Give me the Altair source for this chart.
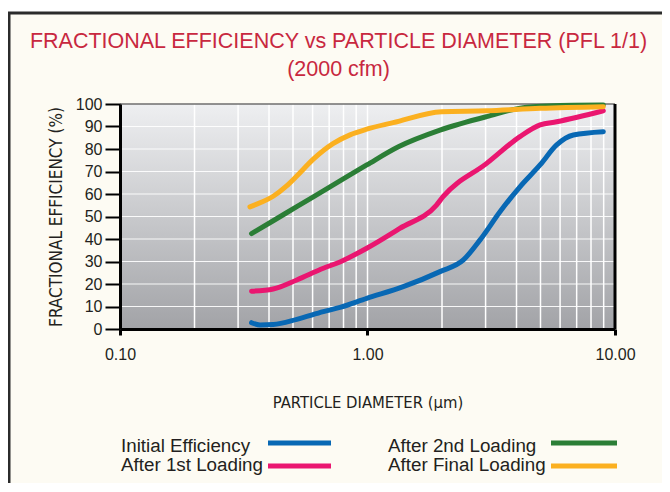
import altair as alt
import pandas as pd

# ---------------- data ----------------
series_names = ["Initial Efficiency", "After 1st Loading", "After 2nd Loading", "After Final Loading"]
series_colors = ["#0868b4", "#ea1670", "#2b7e36", "#fbb020"]

dia_initial = [0.34, 0.368, 0.416, 0.518, 0.663, 0.774, 0.993, 1.395, 1.963, 2.44, 2.85, 3.43, 4.13, 4.98, 5.81, 6.79, 8.97]
eff_initial = [2.8, 1.8, 2.0, 4.3, 7.7, 9.6, 13.6, 18.8, 25.5, 30.7, 39.6, 52.1, 63.2, 72.9, 81.8, 86.2, 87.7]

dia_first = [0.34, 0.416, 0.518, 0.663, 0.774, 0.993, 1.35, 1.90, 2.02, 3.03, 4.13, 4.98, 5.81, 8.97]
eff_first = [16.8, 17.8, 21.8, 27.0, 29.8, 35.9, 44.7, 55.1, 58.8, 73.6, 85.5, 90.7, 92.1, 97.0]

dia_second = [0.34, 0.416, 0.518, 0.663, 0.774, 0.993, 1.333, 1.963, 3.03, 4.40, 6.79, 8.97]
eff_second = [42.4, 48.1, 54.4, 61.4, 65.8, 72.9, 81.0, 88.4, 94.4, 98.6, 99.5, 99.6]

dia_final = [0.335, 0.37, 0.416, 0.47, 0.518, 0.604, 0.728, 0.85, 0.993, 1.27, 1.995, 3.03, 4.98, 8.97]
eff_final = [54.3, 56.2, 59.0, 63.5, 68.0, 75.5, 82.5, 86.3, 88.8, 91.7, 96.6, 97.0, 98.1, 98.8]

x_tick_values = [0.1, 1, 10]
y_tick_values = [0, 10, 20, 30, 40, 50, 60, 70, 80, 90, 100]
x_grid_values = [0.2, 0.3, 0.4, 0.5, 0.6, 0.7, 0.8, 0.9, 1, 2, 3, 4, 5, 6, 7, 8, 9]
y_grid_values = [10, 20, 30, 40, 50, 60, 70, 80, 90]

title_lines = ["FRACTIONAL EFFICIENCY vs PARTICLE DIAMETER (PFL 1/1)", "(2000 cfm)"]
x_title = "PARTICLE DIAMETER (\u00b5m)"
y_title = "FRACTIONAL EFFICIENCY (%)"

rows = []
for name, xs, ys in zip(series_names,
                        [dia_initial, dia_first, dia_second, dia_final],
                        [eff_initial, eff_first, eff_second, eff_final]):
    for xv, yv in zip(xs, ys):
        rows.append({"series": name, "dia": xv, "eff": yv})
df = pd.DataFrame(rows)

# ---------------- layout ----------------
W, H = 495, 225
TEXT = "#231f20"
RED = "#c8283f"
CREAM = "#fdfbf3"
NARROW = "DejaVu Sans Condensed, Liberation Sans Narrow, sans-serif"
SANS = "Liberation Sans, Arial, sans-serif"

x_scale = alt.Scale(type="log", domain=[0.1, 10], nice=False)
y_scale = alt.Scale(domain=[0, 100], nice=False)

x_axis = alt.Axis(values=x_tick_values, format=".2f", grid=False,
                  domainColor="#000", domainWidth=3,
                  tickColor="#000", tickWidth=3, tickSize=6,
                  labelFont=SANS, labelFontSize=16, labelColor=TEXT, labelPadding=11,
                  labelFlush=False, labelOverlap=False,
                  title=x_title, titleFont=NARROW, titleFontSize=16.5, titleFontWeight="normal",
                  titleColor=TEXT, titleY=78, titleBaseline="alphabetic", zindex=1)
y_axis = alt.Axis(values=y_tick_values, grid=False,
                  domainColor="#000", domainWidth=3,
                  tickColor="#000", tickWidth=2, tickSize=15,
                  labelFont=SANS, labelFontSize=16, labelColor=TEXT, labelPadding=3,
                  labelOverlap=False, labelFlush=False,
                  title=y_title, titleFont=NARROW, titleFontSize=17, titleFontWeight="normal",
                  titleColor=TEXT, titleX=-59, titleY=H / 2, titleAngle=270,
                  titleAlign="center", titleBaseline="alphabetic", zindex=1)

one = pd.DataFrame({"k": [0]})

frame = alt.Chart(one).mark_rect(fill=CREAM, stroke="#2b2b2b", strokeWidth=3).encode(
    x=alt.value(-111), x2=alt.value(900), y=alt.value(-91), y2=alt.value(900))

gradient = alt.Gradient(gradient="linear",
                        stops=[alt.GradientStop(color="#eeeff1", offset=0),
                               alt.GradientStop(color="#a2a3a7", offset=1)],
                        x1=0, x2=0, y1=0, y2=1)
plot_bg = alt.Chart(one).mark_rect(color=gradient).encode(
    x=alt.value(0), x2=alt.value(W), y=alt.value(0), y2=alt.value(H))

vgrid = alt.Chart(pd.DataFrame({"v": x_grid_values})).mark_rule(color="white", strokeWidth=1.5).encode(
    x=alt.X("v:Q", scale=x_scale, axis=x_axis), y=alt.value(0), y2=alt.value(H))
hgrid = alt.Chart(pd.DataFrame({"v": y_grid_values})).mark_rule(color="white", strokeWidth=1, opacity=0.9).encode(
    y=alt.Y("v:Q", scale=y_scale, axis=y_axis), x=alt.value(0), x2=alt.value(W))

top_border = alt.Chart(one).mark_rule(color="#6e6e6e", strokeWidth=1.5).encode(
    x=alt.value(0), x2=alt.value(W), y=alt.value(0))
right_border = alt.Chart(one).mark_rule(color="#000", strokeWidth=3).encode(
    x=alt.value(W), y=alt.value(0), y2=alt.value(H))

lines = alt.Chart(df).mark_line(strokeWidth=5, strokeCap="round", strokeJoin="round",
                                interpolate="monotone").encode(
    x=alt.X("dia:Q", scale=x_scale, axis=x_axis),
    y=alt.Y("eff:Q", scale=y_scale, axis=y_axis),
    color=alt.Color("series:N", scale=alt.Scale(domain=series_names, range=series_colors), legend=None),
)

title = alt.Chart(one).mark_text(text=title_lines, lineHeight=28, font=SANS, fontSize=21.5,
                                 color=RED, align="center", baseline="alphabetic").encode(
    x=alt.value(218.5), y=alt.value(-56))

# custom legend: label then swatch, two columns x two rows
leg_text_x = [1, 268]
leg_sw_x = [(148, 211), (431, 497)]
leg_text_y = [348, 367]
leg_sw_y = [339, 362]
legend_layers = []
for i, (name, col) in enumerate(zip(series_names, series_colors)):
    c, r = i // 2, i % 2
    legend_layers.append(
        alt.Chart(one).mark_text(text=name, font=SANS, fontSize=18.8, color=TEXT,
                                 align="left", baseline="alphabetic").encode(
            x=alt.value(leg_text_x[c]), y=alt.value(leg_text_y[r])))
    legend_layers.append(
        alt.Chart(one).mark_rule(color=col, strokeWidth=5).encode(
            x=alt.value(leg_sw_x[c][0]), x2=alt.value(leg_sw_x[c][1]), y=alt.value(leg_sw_y[r])))

chart = alt.layer(frame, plot_bg, vgrid, hgrid, top_border, right_border, lines, title,
                  *legend_layers).properties(
    width=W, height=H,
    autosize=alt.AutoSizeParams(type="none"),
    padding={"left": 112, "top": 96, "right": 47, "bottom": 154},
    background="white",
).configure_view(stroke=None)

chart.save("out.html", embed_options={"renderer": "svg", "actions": False})
